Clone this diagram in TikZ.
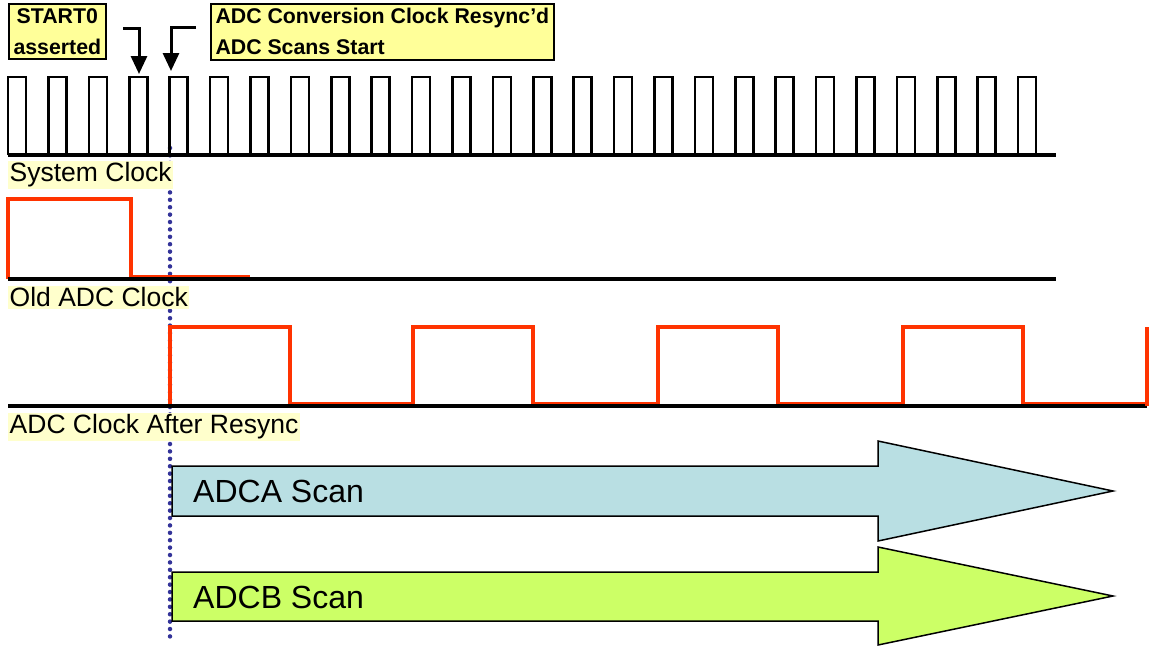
\documentclass[tikz,border=0pt]{standalone}
\usepackage{fontspec}
\setmainfont{Liberation Sans}
\usetikzlibrary{arrows.meta, positioning}
\definecolor{clkRed}{HTML}{FF3300}
\definecolor{syncBlue}{HTML}{333399}
\definecolor{lblYellow}{HTML}{FFFFCC}
\definecolor{noteYellow}{HTML}{FFFF99}
\definecolor{scanCyan}{HTML}{B9DFE3}
\definecolor{scanLime}{HTML}{CCFF66}
\tikzset{
  baseln/.style={line width=4pt},
  sysclk/.style={line width=2.6pt, line join=miter},
  adcclk/.style={clkRed, line width=4pt, line join=miter},
  sigLbl/.style={fill=lblYellow, inner sep=1.5pt, anchor=north west, font=\fontsize{26.5}{29}\selectfont},
  notebox/.style={draw, line width=2pt, fill=noteYellow, font=\bfseries\fontsize{21.3}{31}\selectfont, anchor=north west, inner sep=4.5pt},
  callout/.style={-{Triangle[width=16pt,length=18pt]}, line width=3pt},
  scanshape/.style={draw, line width=1.5pt},
  scanLbl/.style={font=\fontsize{32}{36}\selectfont, anchor=west, inner sep=0pt},
}
\begin{document}
\begin{tikzpicture}[x=1pt, y=-1pt]
  \useasboundingbox (0,0) rectangle (1151,646);
  % resync marker
  \coordinate (syncTop) at (170,148);
  \coordinate (syncBot) at (170,640);
  \draw[syncBlue, line width=4.5pt, line cap=round, dash pattern=on 0pt off 7.4pt] (syncTop) -- (syncBot);

  % system clock
  \foreach \i in {0,...,25}
    \draw[sysclk] ({8+\i*40.4},155) -- ++(0,-78) -- ++(18,0) -- ++(0,78);
  \draw[baseln] (8,155) -- (1056,155);
  \node[sigLbl] (sysLbl) at (8,161) {System Clock};

  % old ADC clock
  \draw[adcclk] (250,277) -- (131,277) -- (131,199) -- (8,199) -- (8,279);
  \draw[baseln] (8,279) -- (1056,279);
  \node[sigLbl] (oldLbl) at (8,286) {Old ADC Clock};

  % ADC clock after resync
  \foreach \x in {170,413,658,903}
    \draw[adcclk] (\x,406) -- (\x,327) -- ({\x+120},327) -- ({\x+120},404) -- ({\x+244},404);
  \draw[baseln] (8,406) -- (1147,406);
  \draw[adcclk] (1147,406) -- (1147,327);
  \node[sigLbl] (newLbl) at (8,413) {ADC Clock After Resync};

  % scans
  \draw[scanshape, fill=scanCyan] (172,466) -- (878,466) -- (878,441) -- (1113,491)
    -- (878,541) -- (878,516) -- (172,516) -- cycle;
  \node[scanLbl] (scanA) at (193,491) {ADCA Scan};
  \draw[scanshape, fill=scanLime] (172,572) -- (878,572) -- (878,547) -- (1113,596)
    -- (878,645) -- (878,621) -- (172,621) -- cycle;
  \node[scanLbl] (scanB) at (193,597) {ADCB Scan};

  % notes
  \node[notebox, align=center] (startNote) at (8,3) {START0\\asserted};
  \node[notebox, align=left] (syncNote) at (210,3) {ADC Conversion Clock Resync’d\\ADC Scans Start};
  \coordinate (startFrom) at (123,28);
  \coordinate (startTo) at (139,74);
  \draw[callout] (startFrom) -| (startTo);
  \coordinate (syncFrom) at (196,27);
  \coordinate (syncTo) at (171,71);
  \draw[callout] (syncFrom) -| (syncTo);
\end{tikzpicture}
\end{document}
